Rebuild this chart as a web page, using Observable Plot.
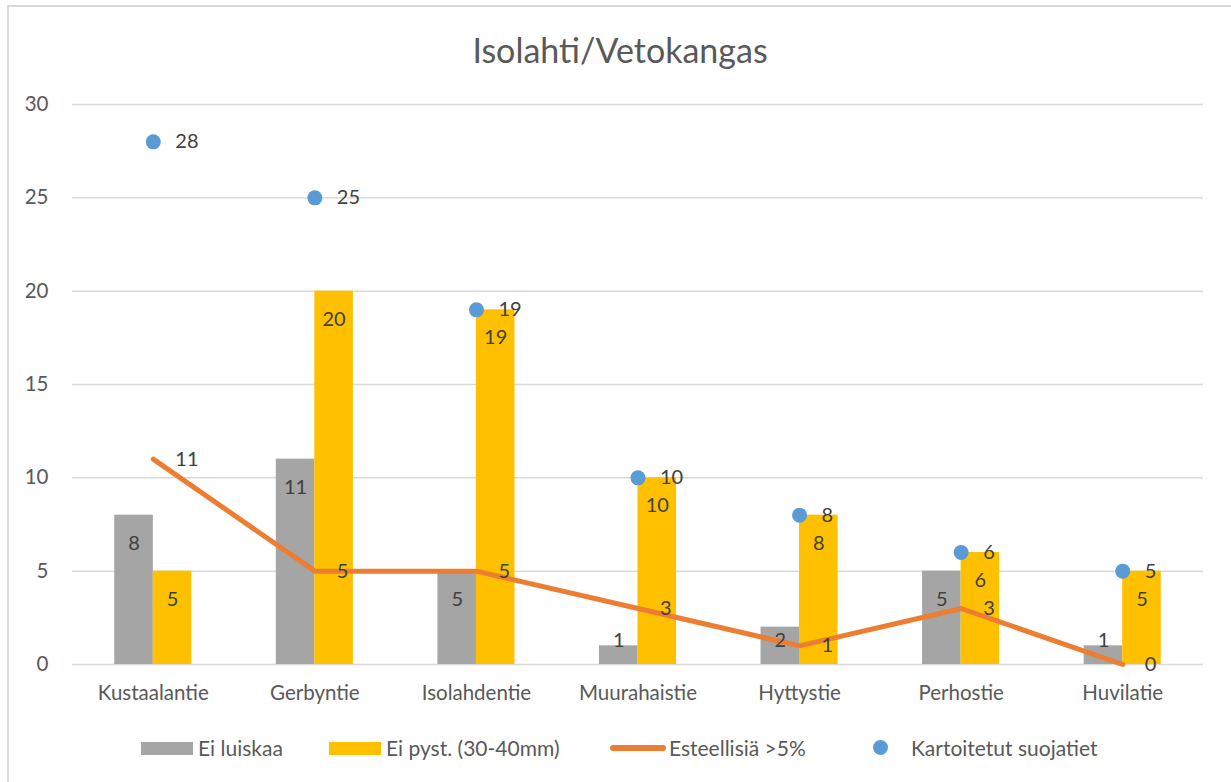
<!DOCTYPE html>
<html><head><meta charset="utf-8">
<script src="https://cdn.jsdelivr.net/npm/d3@7"></script>
<script src="https://cdn.jsdelivr.net/npm/@observablehq/plot@0.6"></script>
<style>
body{margin:0;background:#fff;font-family:Lato,"Open Sans",sans-serif;overflow:hidden;}
#frame{position:absolute;left:7px;top:5px;width:1240px;height:800px;border:2px solid #d9d9d9;box-sizing:border-box;}
#title{position:absolute;top:28px;left:0;width:1240px;text-align:center;font-size:34px;color:#595959;line-height:44px;}
#chart{position:absolute;left:0;top:90px;}
.lg{position:absolute;top:735px;height:26px;font-size:21px;color:#595959;line-height:26px;white-space:nowrap;}
.sw{position:absolute;}
</style></head>
<body>
<div id="frame"></div>
<div id="title">Isolahti/Vetokangas</div>
<div id="chart"></div>
<div id="legend"></div>
<script>
const categories = ["Kustaalantie","Gerbyntie","Isolahdentie","Muurahaistie","Hyttystie","Perhostie","Huvilatie"];
const eiLuiskaa = [8,11,5,1,2,5,1];
const eiPyst = [5,20,19,10,8,6,5];
const esteellisia = [11,5,5,3,1,3,0];
const kartoitetut = [28,25,19,10,8,6,5];
const yTicks = [0,5,10,15,20,25,30];
const seriesNames = ["Ei luiskaa","Ei pyst. (30-40mm)","Esteellisiä >5%","Kartoitetut suojatiet"];
const colors = ["#A5A5A5","#FFC000","#ED7D31","#5B9BD5"];

const rows = categories.map((c,i)=>({c, grey:eiLuiskaa[i], yellow:eiPyst[i], line:esteellisia[i], dot:kartoitetut[i]}));
const labelColor = "#404040";
const half = 19.25;

const chart = Plot.plot({
  width:1231, height:640,
  marginTop:14, marginBottom:66, marginLeft:72, marginRight:28,
  style:{fontFamily:"Lato, 'Open Sans', sans-serif", fontSize:"20.5px", color:"#595959", background:"transparent"},
  x:{domain:categories, paddingInner:0.523, paddingOuter:0.2615, round:false, label:null},
  y:{domain:[0,30], label:null},
  marks:[
    Plot.gridY(yTicks, {stroke:"#d9d9d9", strokeOpacity:1, strokeWidth:1.5}),
    Plot.axisY(yTicks, {tickSize:0, tickPadding:24, label:null, fill:"#595959"}),
    Plot.axisX({tickSize:0, tickPadding:21, label:null, fill:"#595959"}),
    Plot.barY(rows, {x:"c", y:"grey", fill:colors[0], insetRight:38.5}),
    Plot.barY(rows, {x:"c", y:"yellow", fill:colors[1], insetLeft:38.5}),
    Plot.lineY(rows, {x:"c", y:"line", stroke:colors[2], strokeWidth:5, strokeLinecap:"round", strokeLinejoin:"round"}),
    Plot.dot(rows, {x:"c", y:"dot", r:7.5, fill:colors[3]}),
    Plot.text(rows, {x:"c", y:d=>Math.max(d.grey-1.5,1.3), text:"grey", dx:-half, fill:labelColor, fontSize:20}),
    Plot.text(rows, {x:"c", y:d=>Math.max(d.yellow-1.5,1.3), text:"yellow", dx:half, fill:labelColor, fontSize:20}),
    Plot.text(rows, {x:"c", y:"line", text:"line", dx:22, textAnchor:"start", fill:labelColor, fontSize:20}),
    Plot.text(rows, {x:"c", y:"dot", text:"dot", dx:22, textAnchor:"start", fill:labelColor, fontSize:20})
  ]
});
document.getElementById("chart").appendChild(chart);

// legend
const lg = document.getElementById("legend");
const legendX = [141, 329, 610, 873];
const textX = [198, 386, 669, 911];
seriesNames.forEach((name,i)=>{
  const sw = document.createElement("div");
  sw.className="sw";
  if(i<2){ Object.assign(sw.style,{left:legendX[i]+"px", top:"742px", width:"52px", height:"13px", background:colors[i]}); }
  else if(i===2){ Object.assign(sw.style,{left:legendX[i]+"px", top:"745px", width:"56px", height:"6px", background:colors[i], borderRadius:"3px"}); }
  else { Object.assign(sw.style,{left:legendX[i]+"px", top:"740px", width:"15px", height:"15px", background:colors[i], borderRadius:"50%"}); }
  lg.appendChild(sw);
  const t = document.createElement("div");
  t.className="lg"; t.style.left=textX[i]+"px"; t.textContent=name;
  lg.appendChild(t);
});
</script>
</body></html>
